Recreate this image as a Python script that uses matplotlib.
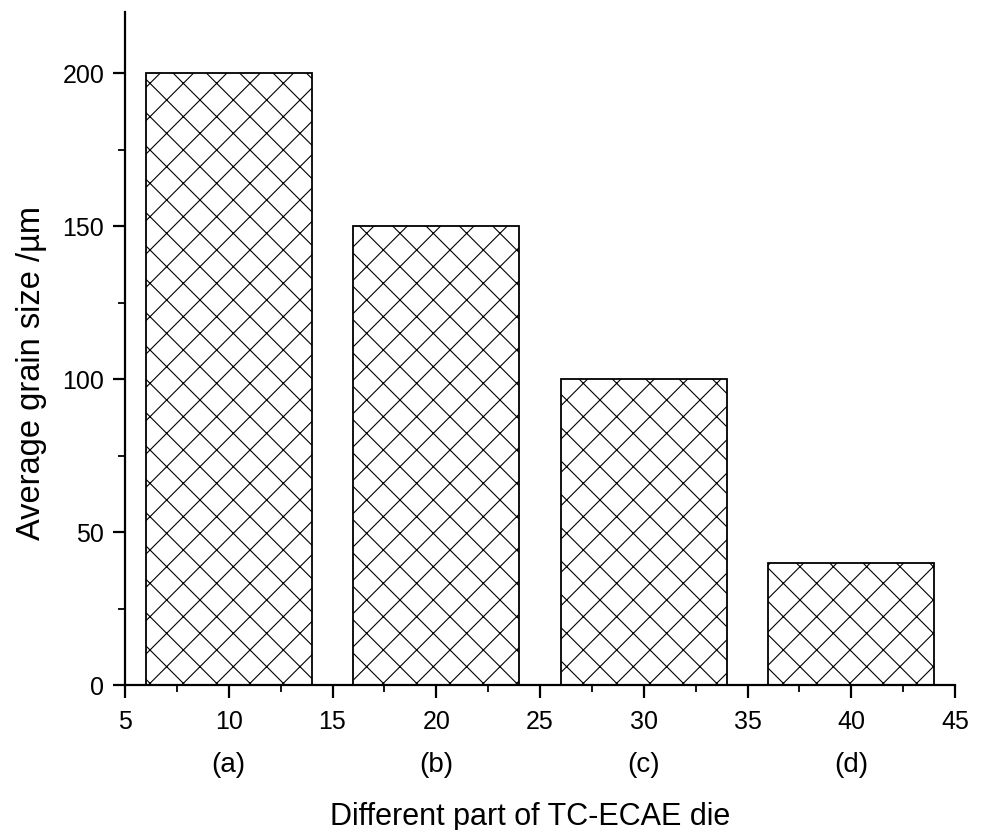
import matplotlib
matplotlib.use('Agg')
import matplotlib.pyplot as plt

plt.rcParams['font.family'] = ['Liberation Sans', 'DejaVu Sans']
plt.rcParams['hatch.linewidth'] = 0.8

# data
positions = [10, 20, 30, 40]
grain_size = [200, 150, 100, 40]
part_labels = ['(a)', '(b)', '(c)', '(d)']

fig = plt.figure(figsize=(9.81, 8.3), dpi=100)
ax = fig.add_axes([125/981, 1-685/830, (955-125)/981, (685-12)/830])

ax.bar(positions, grain_size, width=8, facecolor='white', edgecolor='black',
       linewidth=1.3, hatch='x')

ax.set_xlim(5, 45)
ax.set_ylim(0, 220)
ax.set_xticks(range(5, 46, 5))
ax.set_xticks([x + 2.5 for x in range(5, 45, 5)], minor=True)
ax.set_yticks(range(0, 201, 50))
ax.set_yticks(range(25, 220, 50), minor=True)

for s in ['top', 'right']:
    ax.spines[s].set_visible(False)
for s in ['left', 'bottom']:
    ax.spines[s].set_linewidth(1.6)
ax.tick_params(which='major', direction='out', length=9, width=1.6, labelsize=18, pad=6)
ax.tick_params(axis='x', which='major', pad=9)
ax.tick_params(which='minor', direction='out', length=5, width=1.3)

for p, lab in zip(positions, part_labels):
    ax.text(p, -0.119, lab, transform=ax.get_xaxis_transform(), ha='center',
            va='center', fontsize=20)

ax.set_xlabel('Different part of TC-ECAE die', fontsize=22)
ax.xaxis.set_label_coords(0.488, -0.196)
ax.xaxis.label.set_va('center')
ax.set_ylabel('Average grain size /µm', fontsize=23.5)
ax.yaxis.set_label_coords(-0.113, 0.4636)
ax.yaxis.label.set_va('center')

plt.savefig('out.png', dpi=100)
